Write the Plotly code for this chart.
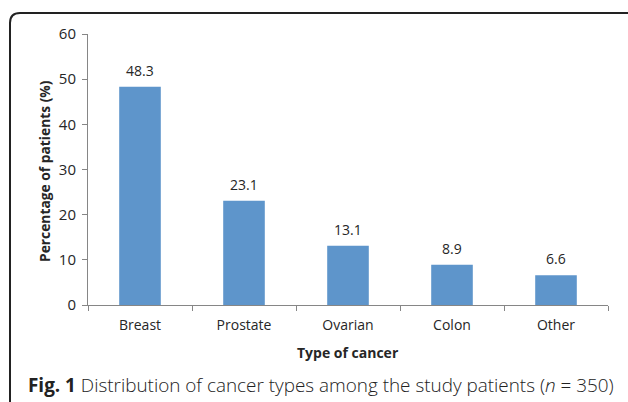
import plotly.graph_objects as go

categories = ["Breast", "Prostate", "Ovarian", "Colon", "Other"]
percentages = [48.3, 23.1, 13.1, 8.9, 6.6]
y_ticks = [0, 10, 20, 30, 40, 50, 60]

W, H = 628, 402
L, R, T, B = 88, 20, 34, 97
pw, ph = W - L - R, H - T - B

def px(x):
    return (x - L) / pw

def py(y):
    return (H - B - y) / ph

font_main = "Open Sans"
txt = "#262626"
axis_col = "#868686"

fig = go.Figure(go.Bar(
    x=categories, y=percentages,
    marker=dict(color="#5E95CB", line=dict(width=0)),
    width=0.4,
))

for c, v in zip(categories, percentages):
    fig.add_annotation(x=c, y=v, text=f"{v:.1f}", showarrow=False,
                       yanchor="bottom", yshift=5,
                       font=dict(family=font_main, size=14, color=txt))

# axis titles
fig.add_annotation(xref="paper", yref="paper", x=px(348), y=py(352),
                   xanchor="center", yanchor="middle",
                   text="<b>Type of cancer</b>", showarrow=False,
                   font=dict(family=font_main, size=14, color=txt))
fig.add_annotation(xref="paper", yref="paper", x=px(44), y=py(171),
                   xanchor="center", yanchor="middle",
                   text="<b>Percentage of patients (%)</b>", showarrow=False,
                   textangle=-90,
                   font=dict(family=font_main, size=13.8, color=txt))
# caption
fig.add_annotation(xref="paper", yref="paper", x=px(26), y=py(385),
                   xanchor="left", yanchor="middle",
                   text="<b>Fig. 1</b> Distribution of cancer types among the study patients (<i>n</i> = 350)",
                   showarrow=False,
                   font=dict(family=font_main, size=18.9, color="#222222", weight=300))

# frame with rounded top-left corner
x0, y0, x1, r = 10, 13, 630, 10
path = (f"M {px(x0)},{py(H + 5)} L {px(x0)},{py(y0 + r)} "
        f"Q {px(x0)},{py(y0)} {px(x0 + r)},{py(y0)} L {px(x1)},{py(y0)}")
fig.add_shape(type="path", xref="paper", yref="paper", path=path,
              line=dict(color="#222222", width=2))

fig.update_layout(
    width=W, height=H,
    margin=dict(l=L, r=R, t=T, b=B),
    paper_bgcolor="white", plot_bgcolor="white",
    showlegend=False,
    xaxis=dict(showline=True, linecolor=axis_col, linewidth=1,
               ticks="outside", tickson="boundaries", ticklen=5,
               tickcolor=axis_col, showgrid=False, ticklabelstandoff=7,
               tickfont=dict(family=font_main, size=14, color=txt)),
    yaxis=dict(range=[0, 60], tickvals=y_ticks, showline=True,
               linecolor=axis_col, linewidth=1, ticks="outside", ticklen=5,
               tickcolor=axis_col, showgrid=False, zeroline=False,
               ticklabelstandoff=3,
               tickfont=dict(family=font_main, size=15, color=txt)),
)

fig.write_html("out.html", config={"displayModeBar": False},
               post_script="document.body.style.margin='0';document.body.style.padding='0';")
